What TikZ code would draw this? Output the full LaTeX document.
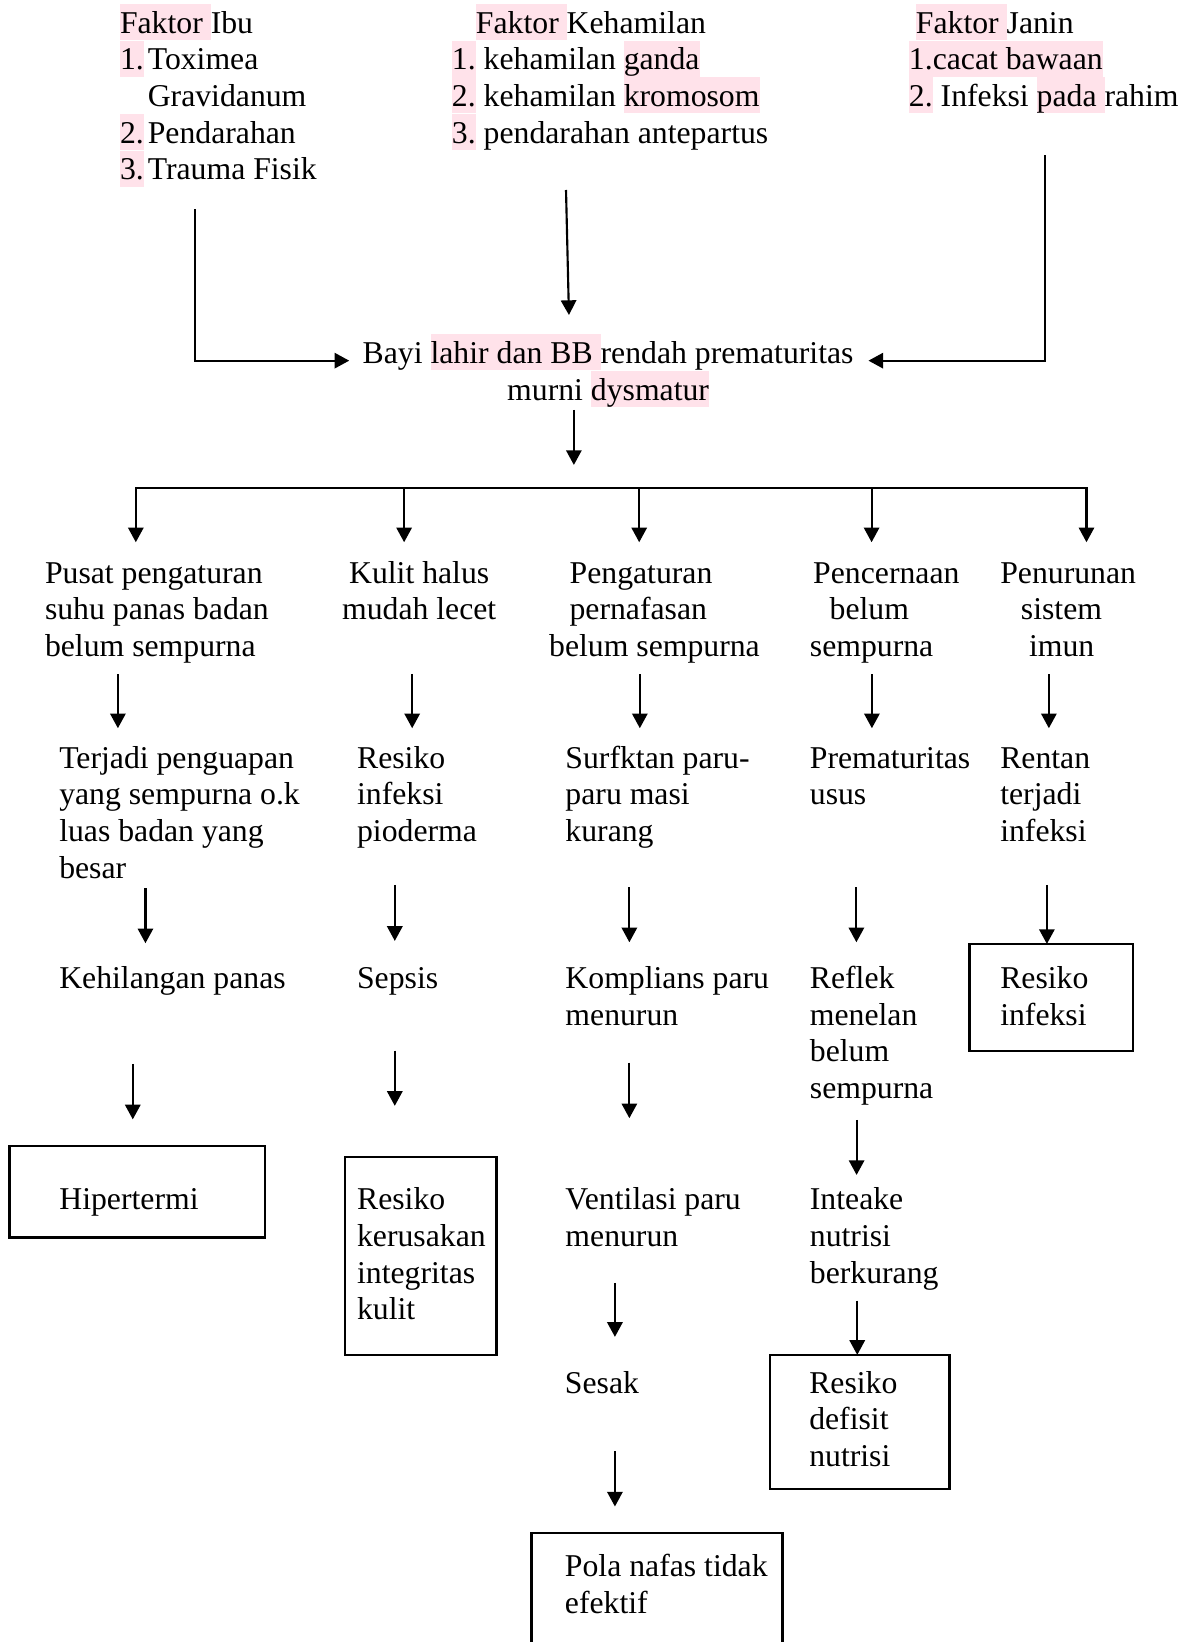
\documentclass[tikz,border=0pt]{standalone}
\usepackage{fontspec}
\setmainfont{Liberation Serif}
\usetikzlibrary{arrows.meta,calc,fit}
\definecolor{pinkhl}{RGB}{255,226,234}
\newcommand\hl[1]{{\setlength{\fboxsep}{0pt}\colorbox{pinkhl}{\rule[-5pt]{0pt}{27pt}#1}}}
\newcommand\st{\rule[-5.5pt]{0pt}{27.5pt}}
\begin{document}
\begin{tikzpicture}[x=0.7855pt,y=-0.7855pt,
  every node/.style={inner sep=0pt, outer sep=0pt, font=\fontsize{23.8pt}{27.5pt}\selectfont},
  txt/.style={anchor=north west, align=left},
  ctxt/.style={anchor=north, align=center},
  arr/.style={line width=1.6pt, -{Triangle[length=11pt,width=11.5pt]}},
  ln/.style={line width=1.6pt},
  boxst/.style={draw, line width=2pt, inner sep=0pt}]
\useasboundingbox (0,0) rectangle (1141,1568);
\clip (0,0) rectangle (1141,1568);

% header
\node[txt] (hIbu) at (114.6,3.8) {\st\hl{Faktor }Ibu\\\st\hl{1.}\hspace{3pt}Toximea\\\st\phantom{1.}\hspace{3pt}Gravidanum\\\st\hl{2.}\hspace{3pt}Pendarahan\\\st\hl{3.}\hspace{3pt}Trauma Fisik};
\node[txt] (hKeh) at (431.6,3.8) {\st\hspace*{18pt}\hl{Faktor }Kehamilan\\\st\hl{1.} kehamilan \hl{ganda}\\\st\hl{2.} kehamilan \hl{kromosom}\\\st\hl{3.} pendarahan antepartus};
\node[txt] (hJanin) at (868,3.8) {\st\hspace*{5.2pt}\hl{Faktor }Janin\\\st\hl{1.cacat bawaan}\\\st\hl{2.} Infeksi \hl{pada }rahim};

\node[ctxt] (bayi) at (580.7,319) {\st Bayi \hl{lahir dan BB }rendah prematuritas\\\st murni \hl{dysmatur}};

% row 1
\node[txt] (p1) at (43,529) {\st Pusat pengaturan\\\st suhu panas badan\\\st belum sempurna};
\node[ctxt] (p2) at (400.3,529) {\st Kulit halus\\\st mudah lecet};
\node[txt] (p3) at (524.4,529) {\st\hspace*{15.4pt}Pengaturan\\\st\hspace*{15.3pt}pernafasan\\\st belum sempurna};
\node[txt] (p4) at (773.4,529) {\st\hspace*{2.5pt}Pencernaan\\\st\hspace*{14.8pt}belum\\\st sempurna};
\node[txt] (p5) at (955.2,529) {\st Penurunan\\\st\hspace*{15.5pt}sistem\\\st\hspace*{21.6pt}imun};

% row 2
\node[txt] (t1) at (56.6,705.6) {\st Terjadi penguapan\\\st yang sempurna o.k\\\st luas badan yang\\\st besar};
\node[txt] (t2) at (341,705.6) {\st Resiko\\\st infeksi\\\st pioderma};
\node[txt] (t3) at (540,705.6) {\st Surfktan paru-\\\st paru masi\\\st kurang};
\node[txt] (t4) at (773.4,705.6) {\st Prematuritas\\\st usus};
\node[txt] (t5) at (955.2,705.6) {\st Rentan\\\st terjadi\\\st infeksi};

% row 3
\node[txt] (k1) at (56.6,916) {\st Kehilangan panas};
\node[txt] (k2) at (341,916) {\st Sepsis};
\node[txt] (k3) at (540,916) {\st Komplians paru\\\st menurun};
\node[txt] (k4) at (773.4,916) {\st Reflek\\\st menelan\\\st belum\\\st sempurna};
\node[txt] (k5) at (955.2,916) {\st Resiko\\\st infeksi};
\node[boxst, fit={($(k5.north west)+(-29.4,-14.6)$) ($(k5.north west)+(126.8,87.5)$)}] (k5box) {};

% row 4
\node[txt] (h1) at (56.7,1127.4) {\st Hipertermi};
\node[boxst, fit={($(h1.north west)+(-47.8,-33.2)$) ($(h1.north west)+(196.3,54)$)}] (h1box) {};
\node[txt] (r2) at (341,1127.4) {\st Resiko\\\st kerusakan\\\st integritas\\\st kulit};
\node[boxst, fit={($(r2.north west)+(-11.6,-22.4)$) ($(r2.north west)+(133,166.6)$)}] (r2box) {};
\node[txt] (v3) at (540,1127.4) {\st Ventilasi paru\\\st menurun};
\node[txt] (i4) at (773.4,1127.4) {\st Inteake\\\st nutrisi\\\st berkurang};

% row 5
\node[txt] (s3) at (539.5,1302.4) {\st Sesak};
\node[txt] (n4) at (772.8,1302.4) {\st Resiko\\\st defisit\\\st nutrisi};
\node[boxst, fit={($(n4.north west)+(-37.5,-8.6)$) ($(n4.north west)+(133.7,119.6)$)}] (n4box) {};

% row 6
\node[txt] (pola) at (539.5,1477.5) {\st Pola nafas tidak\\\st efektif};
\node[boxst, fit={($(pola.north west)+(-31.8,-13.5)$) ($(pola.north west)+(207.8,122.5)$)}] (pbox) {};

% header arrows
\draw[arr] ($(hIbu.south -| 186,0)+(0,21.1)$) |- ($(bayi.north west)+(-12.9,25.4)$);
\draw[arr] ($(hKeh.south -| 540.5,0)+(0,37.6)$) -- ($(bayi.north -| 543.3,0)+(0,-18.2)$);
\draw[arr] ($(hJanin.south -| 998,0)+(0,39.2)$) |- ($(bayi.north east)+(14.3,25.4)$);

% bus
\coordinate (d1) at (129.7,465.6);
\coordinate (d2) at (385.9,465.6);
\coordinate (d3) at (610.4,465.6);
\coordinate (d4) at (832.3,465.6);
\coordinate (d5) at (1037.5,465.6);
\draw[arr] ($(bayi.south -| 548,0)+(0,2.5)$) -- ($(d1 -| 548,0)+(0,-21.6)$);
\draw[ln, line cap=rect] (d1) -- (d5);
\draw[arr] (d1) -- ($(p1.north -| d1)+(0,-11.2)$);
\draw[arr] (d2) -- ($(p2.north -| d2)+(0,-11.2)$);
\draw[arr] (d3) -- ($(p3.north -| d3)+(0,-11.2)$);
\draw[arr] (d4) -- ($(p4.north -| d4)+(0,-11.2)$);
\draw[arr] (d5) -- ($(p5.north -| d5)+(0,-11.2)$);

% row 1 arrows
\draw[arr] ($(p1.south -| 112.6,0)+(0,9.6)$) -- ($(t1.north -| 112.6,0)+(0,-10.2)$);
\draw[arr] ($(p2.south -| 393.6,0)+(0,44.6)$) -- ($(t2.north -| 393.6,0)+(0,-10.2)$);
\draw[arr] ($(p3.south -| 611,0)+(0,9.6)$) -- ($(t3.north -| 611,0)+(0,-10.2)$);
\draw[arr] ($(p4.south -| 832.6,0)+(0,9.6)$) -- ($(t4.north -| 832.6,0)+(0,-10.2)$);
\draw[arr] ($(p5.south -| 1001.6,0)+(0,9.6)$) -- ($(t5.north -| 1001.6,0)+(0,-10.2)$);

% row 2 arrows
\draw[arr] ($(t1.south -| 138.9,0)+(0,2.6)$) -- ($(k1.north -| 138.9,0)+(0,-15.3)$);
\draw[arr] ($(t2.south -| 377,0)+(0,34.4)$) -- ($(k2.north -| 377,0)+(0,-17.5)$);
\draw[arr] ($(t3.south -| 601,0)+(0,36.7)$) -- ($(k3.north -| 601,0)+(0,-16.2)$);
\draw[arr] ($(t4.south -| 817.8,0)+(0,71.7)$) -- ($(k4.north -| 817.8,0)+(0,-16.2)$);
\draw[arr] ($(t5.south -| 999.7,0)+(0,34.4)$) -- (k5box.north -| 999.7,0);

% row 3 arrows
\draw[arr] ($(k1.south -| 126.8,0)+(0,65)$) -- ($(h1box.north -| 126.8,0)+(0,-25.3)$);
\draw[arr] ($(k2.south -| 377,0)+(0,52.2)$) -- ($(r2box.north -| 377,0)+(0,-49)$);
\draw[arr] ($(k3.south -| 601,0)+(0,28.7)$) -- ($(v3.north -| 601,0)+(0,-59.6)$);
\draw[arr] ($(k4.south -| 818,0)+(0,13.4)$) -- ($(i4.north -| 818,0)+(0,-5.4)$);

% row 4 arrows
\draw[arr] ($(v3.south -| 587.2,0)+(0,27.6)$) -- ($(s3.north -| 587.2,0)+(0,-25.8)$);
\draw[arr] ($(i4.south -| 818.6,0)+(0,9.6)$) -- (n4box.north -| 818.6,0);

% row 5 arrow
\draw[arr] ($(s3.south -| 587.2,0)+(0,48.6)$) -- ($(pbox.north -| 587.2,0)+(0,-25.4)$);
\end{tikzpicture}
\end{document}
